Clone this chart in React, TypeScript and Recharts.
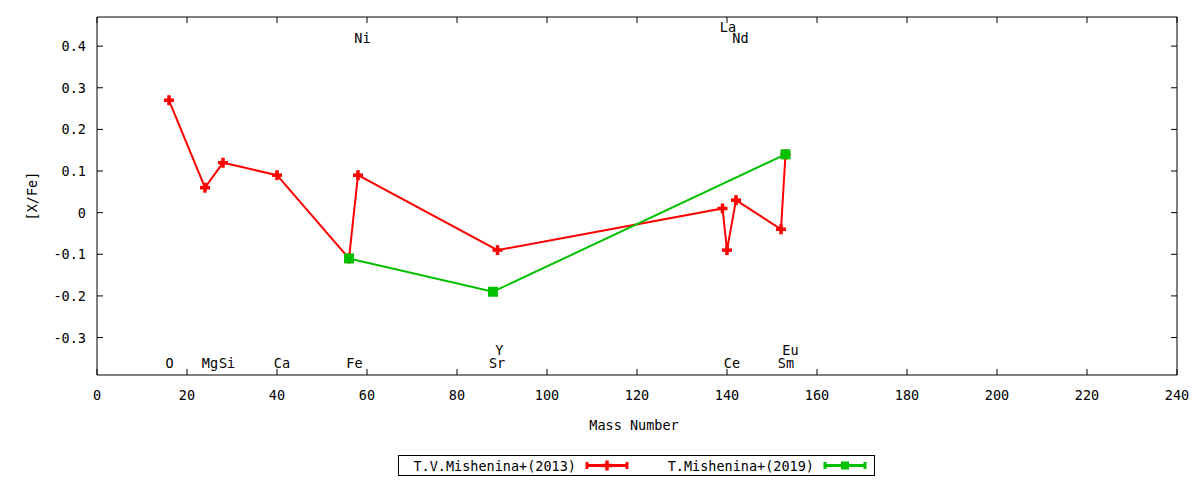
import React from 'react'
import {
  ScatterChart,
  Scatter,
  XAxis,
  YAxis,
  ReferenceArea,
} from 'recharts'

// [X/Fe] vs mass number
const redMass = [16, 24, 28, 40, 56, 58, 89, 139, 140, 142, 152, 153]
const redValue = [0.27, 0.06, 0.12, 0.09, -0.11, 0.09, -0.09, 0.01, -0.09, 0.03, -0.04, 0.14]

const greenMass = [56, 88, 153]
const greenValue = [-0.11, -0.19, 0.14]

// element labels (data coordinates)
const labelNames = ['O', 'Mg', 'Si', 'Ca', 'Fe', 'Ni', 'Sr', 'Y', 'La', 'Ce', 'Nd', 'Sm', 'Eu']
const labelX = [16.1, 25.1, 28.9, 41.1, 57.2, 59.0, 88.9, 89.4, 140.2, 141.1, 143.0, 153.1, 154.1]
const labelY = [-0.362, -0.362, -0.362, -0.362, -0.362, 0.42, -0.362, -0.33, 0.446, -0.362, 0.42, -0.362, -0.33]

const xTicks = [0, 20, 40, 60, 80, 100, 120, 140, 160, 180, 200, 220, 240]
const yTicks = [-0.3, -0.2, -0.1, 0, 0.1, 0.2, 0.3, 0.4]

const legendNames = ['T.V.Mishenina+(2013)', 'T.Mishenina+(2019)']

const W = 1200
const H = 480
const MARGIN = { top: 17, right: 23, bottom: 75, left: 0 }
const Y_AXIS_W = 97
const X_AXIS_H = 30
const PLOT_TOP = MARGIN.top
const PLOT_BOTTOM = H - MARGIN.bottom - X_AXIS_H
const PLOT_LEFT = MARGIN.left + Y_AXIS_W
const PLOT_RIGHT = W - MARGIN.right
const FONT = '"DejaVu Sans Mono", monospace'
const FONT_SIZE = 13.5
const RED = '#ff0000'
const GREEN = '#00c000'
const TICK = 6

const redData = redMass.map((x, i) => ({ x, y: redValue[i] }))
const greenData = greenMass.map((x, i) => ({ x, y: greenValue[i] }))
const labelData = labelNames.map((name, i) => ({ x: labelX[i], y: labelY[i], name }))

const fmtY = (v: number) => (v === 0 ? '0' : v.toFixed(1))

const XTick = ({ x, payload }: any) => (
  <g>
    <line x1={x} x2={x} y1={PLOT_BOTTOM} y2={PLOT_BOTTOM - TICK} stroke="#000" />
    <line x1={x} x2={x} y1={PLOT_TOP} y2={PLOT_TOP + TICK} stroke="#000" />
    <text
      x={x}
      y={PLOT_BOTTOM + 20}
      textAnchor="middle"
      dominantBaseline="central"
      fontFamily={FONT}
      fontSize={FONT_SIZE}
      fill="#000"
    >
      {payload.value}
    </text>
  </g>
)

const YTick = ({ y, payload }: any) => (
  <g>
    <line x1={PLOT_LEFT} x2={PLOT_LEFT + TICK} y1={y} y2={y} stroke="#000" />
    <line x1={PLOT_RIGHT} x2={PLOT_RIGHT - TICK} y1={y} y2={y} stroke="#000" />
    <text
      x={PLOT_LEFT - 11}
      y={y}
      textAnchor="end"
      dominantBaseline="central"
      fontFamily={FONT}
      fontSize={FONT_SIZE}
      fill="#000"
    >
      {fmtY(payload.value)}
    </text>
  </g>
)

const PlusMark = ({ cx, cy }: any) => {
  if (cx == null || cy == null) return null
  return (
    <g fill={RED}>
      <rect x={cx - 5} y={cy - 1.75} width={10} height={3.5} />
      <rect x={cx - 1.75} y={cy - 5} width={3.5} height={10} />
    </g>
  )
}

const SquareMark = ({ cx, cy }: any) => {
  if (cx == null || cy == null) return null
  return <rect x={cx - 5} y={cy - 5} width={10} height={10} fill={GREEN} />
}

const LabelMark = ({ cx, cy, payload }: any) => {
  if (cx == null || cy == null) return null
  return (
    <text
      x={cx}
      y={cy}
      textAnchor="middle"
      dominantBaseline="central"
      fontFamily={FONT}
      fontSize={FONT_SIZE}
      fill="#000"
    >
      {payload.name}
    </text>
  )
}

const Legend = () => (
  <svg
    width={478}
    height={22}
    style={{ position: 'absolute', left: 398, top: 455 }}
  >
    <rect x={0.5} y={0.5} width={476} height={20} fill="#fff" stroke="#000" />
    <g fontFamily={FONT} fontSize={FONT_SIZE} fill="#000">
      <text x={178} y={10.5} textAnchor="end" dominantBaseline="central">
        {legendNames[0]}
      </text>
      <text x={416} y={10.5} textAnchor="end" dominantBaseline="central">
        {legendNames[1]}
      </text>
    </g>
    <g stroke={RED} strokeWidth={3}>
      <line x1={188} x2={230} y1={10.5} y2={10.5} />
      <line x1={189} x2={189} y1={7} y2={14} />
      <line x1={229} x2={229} y1={7} y2={14} />
    </g>
    <PlusMark cx={209} cy={10.5} />
    <g stroke={GREEN} strokeWidth={3}>
      <line x1={426} x2={468} y1={10.5} y2={10.5} />
      <line x1={427} x2={427} y1={7} y2={14} />
      <line x1={467} x2={467} y1={7} y2={14} />
    </g>
    <rect x={443} y={6.5} width={8} height={8} fill={GREEN} />
  </svg>
)

export default function App() {
  return (
    <div style={{ position: 'absolute', left: 0, top: 0, width: W, height: H, background: '#fff' }}>
      <ScatterChart width={W} height={H} margin={MARGIN}>
        <XAxis
          type="number"
          dataKey="x"
          domain={[0, 240]}
          ticks={xTicks}
          allowDataOverflow
          height={X_AXIS_H}
          axisLine={false}
          tickLine={false}
          tick={<XTick />}
          interval={0}
          label={{
            content: () => (
              <text
                x={(PLOT_LEFT + PLOT_RIGHT) / 2 - 3}
                y={PLOT_BOTTOM + 50}
                textAnchor="middle"
                dominantBaseline="central"
                fontFamily={FONT}
                fontSize={FONT_SIZE}
                fill="#000"
              >
                Mass Number
              </text>
            ),
          }}
        />
        <YAxis
          type="number"
          dataKey="y"
          domain={[-0.39, 0.47]}
          ticks={yTicks}
          allowDataOverflow
          width={Y_AXIS_W}
          axisLine={false}
          tickLine={false}
          tick={<YTick />}
          interval={0}
          label={{
            content: () => (
              <text
                x={32}
                y={(PLOT_TOP + PLOT_BOTTOM) / 2}
                textAnchor="middle"
                dominantBaseline="central"
                fontFamily={FONT}
                fontSize={FONT_SIZE}
                fill="#000"
                transform={`rotate(-90 32 ${(PLOT_TOP + PLOT_BOTTOM) / 2})`}
              >
                [X/Fe]
              </text>
            ),
          }}
        />
        <ReferenceArea
          x1={0}
          x2={240}
          y1={-0.39}
          y2={0.47}
          fill="none"
          stroke="#000"
          strokeWidth={1}
          ifOverflow="visible"
        />
        <Scatter
          name="labels"
          data={labelData}
          shape={<LabelMark />}
          isAnimationActive={false}
        />
        <Scatter
          name={legendNames[0]}
          data={redData}
          line={{ stroke: RED, strokeWidth: 2 }}
          lineType="joint"
          shape={<PlusMark />}
          isAnimationActive={false}
        />
        <Scatter
          name={legendNames[1]}
          data={greenData}
          line={{ stroke: GREEN, strokeWidth: 2 }}
          lineType="joint"
          shape={<SquareMark />}
          isAnimationActive={false}
        />
      </ScatterChart>
      <Legend />
    </div>
  )
}
